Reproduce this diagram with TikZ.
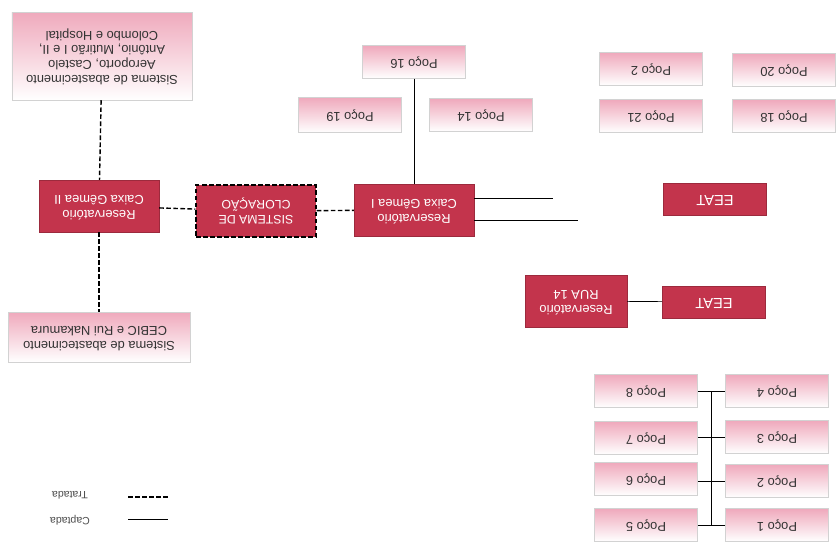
\documentclass[tikz,border=0pt]{standalone}
\usepackage{fontspec}
\usepackage{graphicx}
\setmainfont{Liberation Sans}
\usetikzlibrary{calc}

\definecolor{resred}{HTML}{C3344C}
\definecolor{pocopink}{HTML}{EFA9BC}
% texto de cabeca para baixo
\newcommand{\inv}[1]{\rotatebox[origin=c]{180}{\begin{tabular}{@{}c@{}}#1\end{tabular}}}

\begin{document}
\begin{tikzpicture}[x=0.03cm,y=-0.03cm]
\tikzset{every node/.style={font=\fontsize{11}{12.5}\selectfont}}
\tikzset{poco/.style={draw=gray!35,top color=pocopink,bottom color=white,minimum width=3.1cm,minimum height=0.98cm,text=black!80}}
\tikzset{sisbox/.style={poco,inner sep=1pt}}
\tikzset{resbox/.style={fill=resred,draw=resred!80!black,text=white,minimum width=3.6cm,minimum height=1.55cm}}
\tikzset{eeat/.style={fill=resred,draw=resred!80!black,text=white,minimum width=3.1cm,minimum height=0.95cm,font=\fontsize{12.5}{14}\selectfont}}
\tikzset{tratada/.style={very thick,dash pattern=on 4pt off 2pt}}
\tikzset{captada/.style={semithick}}

\useasboundingbox (0,0) rectangle (838,546);

% sistemas de abastecimento
\node[sisbox,minimum width=5.4cm,minimum height=2.64cm] (sisA) at (102,56)
  {\inv{Sistema de abastecimento\\Aeroporto, Castelo\\Antônio, Mutirão I e II,\\Colombo e Hospital}};
\node[sisbox,minimum width=5.45cm,minimum height=1.5cm] (sisB) at (99,337)
  {\inv{Sistema de abastecimento\\CEBIC e Rui Nakamura}};

% reservatorios
\node[resbox] (g2) at (99,206) {\inv{Reservatório\\Caixa Gêmea II}};
\node[resbox,draw=black,tratada,font=\fontsize{10.5}{12}\selectfont] (clor) at (256,211) {\inv{SISTEMA DE\\CLORAÇÃO}};
\node[resbox] (g1) at (414,210) {\inv{Reservatório\\Caixa Gêmea I}};
\node[resbox,minimum width=3.05cm] (r14) at (576,301) {\inv{Reservatório\\RUA 14}};

\node[eeat] (eeat1) at (715,199) {\inv{EEAT}};
\node[eeat] (eeat2) at (714,302) {\inv{EEAT}};

% pocos
\node[poco] (p16) at (414,62) {\inv{Poço 16}};
\node[poco,minimum height=1.05cm] (p19) at (350,115) {\inv{Poço 19}};
\node[poco] (p14) at (481,115) {\inv{Poço 14}};
\node[poco] (p2a) at (651,69) {\inv{Poço 2}};
\node[poco] (p20) at (784,70) {\inv{Poço 20}};
\node[poco] (p21) at (651,116) {\inv{Poço 21}};
\node[poco] (p18) at (784,116) {\inv{Poço 18}};

\node[poco] (p8) at (646,391) {\inv{Poço 8}};
\node[poco] (p7) at (646,438) {\inv{Poço 7}};
\node[poco] (p6) at (646,479) {\inv{Poço 6}};
\node[poco] (p5) at (646,525) {\inv{Poço 5}};
\node[poco] (p4) at (777,391) {\inv{Poço 4}};
\node[poco] (p3) at (777,437) {\inv{Poço 3}};
\node[poco] (p2) at (777,481) {\inv{Poço 2}};
\node[poco] (p1) at (777,525) {\inv{Poço 1}};

% ligacoes
\draw[tratada] (sisA) -- (g2);
\draw[tratada] (g2) -- (sisB);
\draw[tratada] (g2) -- (clor);
\draw[tratada] (clor) -- (g1);
\draw[captada] (p16) -- (g1);
\coordinate (ga) at (553,198);
\coordinate (gb) at (578,220);
\draw[captada] (g1.east |- ga) -- (ga);
\draw[captada] (g1.east |- gb) -- (gb);
\draw[captada] (r14) -- (eeat2);
\foreach \a/\b in {p8/p4,p7/p3,p6/p2,p5/p1}
  \draw[captada] (\a.east |- \b) -- (\b);
\draw[captada] ($(p8)!.5!(p4)$) -- ($(p5)!.5!(p1)$);

% legenda
\coordinate (lt1) at (128,497);
\coordinate (lt2) at (168,497);
\coordinate (lc1) at (128,519);
\coordinate (lc2) at (168,519);
\draw[tratada] (lt1) -- (lt2);
\draw[captada] (lc1) -- (lc2);
\node[font=\fontsize{9}{10}\selectfont,text=black!70] (ltt) at (70,494) {\inv{Tratada}};
\node[font=\fontsize{9}{10}\selectfont,text=black!70] (lct) at (70,520) {\inv{Captada}};
\end{tikzpicture}
\end{document}
